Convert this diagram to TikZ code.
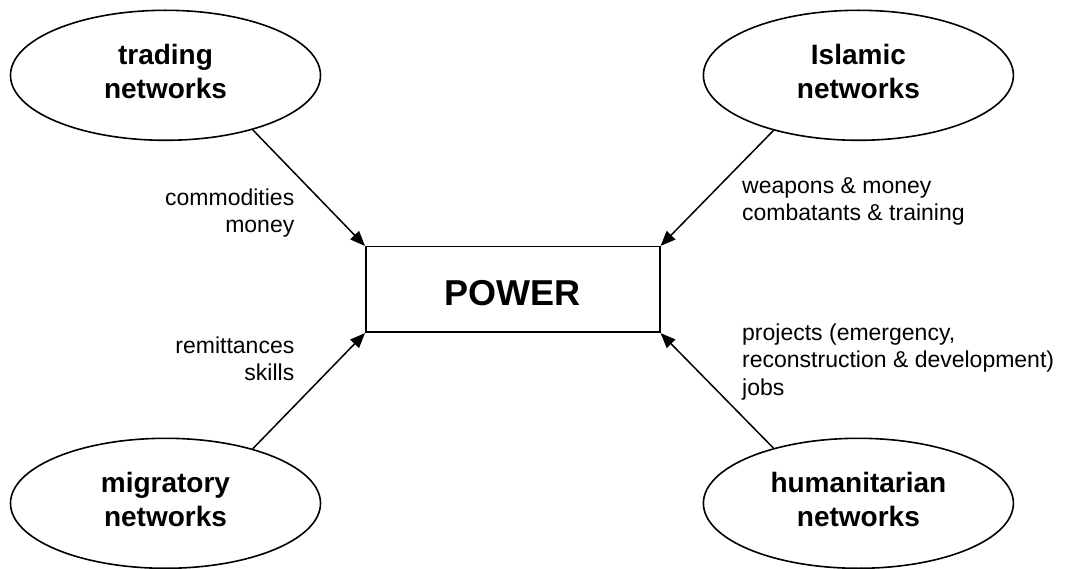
\documentclass[tikz,border=0pt]{standalone}
\usepackage{fontspec}
\setmainfont{Liberation Sans}
\usetikzlibrary{shapes.geometric,arrows.meta}
\begin{document}
\begin{tikzpicture}[x=1pt,y=-1pt,
  netnode/.style={draw,ellipse,line width=1.6pt,minimum width=310pt,minimum height=130pt,inner sep=0pt,
    align=center,font=\bfseries\fontsize{28}{33.5}\selectfont,text depth=7.6pt},
  powerbox/.style={draw,rectangle,line width=1.6pt,minimum width=294pt,minimum height=85.6pt,inner sep=0pt,
    font=\bfseries\fontsize{36}{40}\selectfont,text height=32.4pt,text depth=0pt},
  flowlabel/.style={inner sep=0pt,font=\fontsize{23}{27.5}\selectfont},
  flow/.style={line width=1.5pt,-{Triangle[length=15pt,width=12pt]}}]
\useasboundingbox (0,0) rectangle (1071,569);
\node[netnode] (tr) at (165.5,75.3) {trading\\networks};
\node[netnode] (is) at (858.4,75.3) {Islamic\\networks};
\node[netnode] (mi) at (165.5,503.3) {migratory\\networks};
\node[netnode] (hu) at (858.4,503.3) {humanitarian\\networks};
\node[powerbox] (pw) at (512.8,289.5) {POWER};
\draw[flow] (tr.-32.4) -- (pw.north west);
\draw[flow] (is.213.1) -- (pw.north east);
\draw[flow] (mi.32.5) -- (pw.south west);
\draw[flow] (hu.147.2) -- (pw.south east);
\node[flowlabel,align=right,anchor=east] (l1) at (294.5,213.2) {commodities\\money};
\node[flowlabel,align=left,anchor=west] (l2) at (742,201.2) {weapons \& money\\combatants \& training};
\node[flowlabel,align=right,anchor=east] (l3) at (294.5,358.6) {remittances\\skills};
\node[flowlabel,align=left,anchor=west] (l4) at (742,361.9) {projects (emergency,\\reconstruction \& development)\\jobs};
\end{tikzpicture}
\end{document}
